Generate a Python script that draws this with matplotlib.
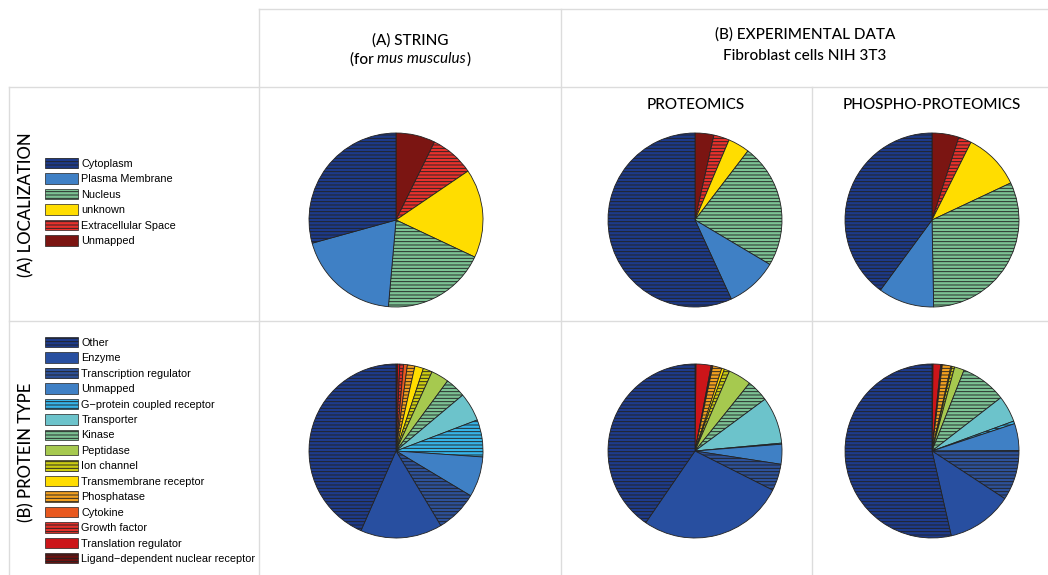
import matplotlib
matplotlib.use('Agg')
import matplotlib.pyplot as plt
from matplotlib.patches import Patch
from matplotlib.lines import Line2D

# localization categories (legend order) and shares in %
loc_labels = ['Cytoplasm', 'Plasma Membrane', 'Nucleus', 'unknown',
              'Extracellular Space', 'Unmapped']
loc_string = [29.3, 19.3, 19.4, 16.5, 8.2, 7.3]
loc_prot = [56.8, 9.6, 23.1, 4.0, 2.9, 3.5]
loc_phos = [39.9, 10.4, 31.7, 10.6, 2.4, 5.0]
loc_colors = ['#1d3a8a', '#3f80c5', '#7cc294', '#ffdd00', '#e8312c', '#7b1512']
loc_hatch = [True, False, True, False, True, False]

# protein type categories (legend order) and shares in %
type_labels = ['Other', 'Enzyme', 'Transcription regulator', 'Unmapped',
               'G\u2212protein coupled receptor', 'Transporter', 'Kinase',
               'Peptidase', 'Ion channel', 'Transmembrane receptor',
               'Phosphatase', 'Cytokine', 'Growth factor',
               'Translation regulator', 'Ligand\u2212dependent nuclear receptor']
type_string = [43.4, 15.2, 7.8, 7.5, 6.9, 5.3, 3.8, 3.3, 1.7, 1.6, 1.4, 0.7, 0.7, 0.4, 0.3]
type_prot = [40.5, 27.2, 5.0, 3.7, 0.2, 8.7, 4.1, 4.3, 1.0, 0.5, 1.7, 0.1, 0.2, 2.8, 0.2]
type_phos = [53.5, 12.2, 9.3, 5.0, 0.5, 4.9, 8.5, 1.8, 0.5, 0.2, 1.6, 0.1, 0.2, 1.4, 0.2]
type_colors = ['#1e3b8c', '#284fa0', '#2d5199', '#3f80c5', '#36b4e8', '#6cc3cb',
               '#7cc294', '#a6c94f', '#cccc12', '#ffdd00', '#f2a01f', '#e8581e',
               '#e3302a', '#cc1519', '#6b1210']
type_hatch = [True, False, True, False, True, False, True, False, True, False,
              True, False, True, False, True]

HATCH = '-----'
EDGE = '#222222'
plt.rcParams['hatch.linewidth'] = 0.65

W, H = 1048, 575
fig = plt.figure(figsize=(W / 100, H / 100), dpi=100)


def fx(x):
    return x / W


def fy(y):
    return 1 - y / H


def pie(cx, cy, vals, colors, hatches, r=87):
    ax = fig.add_axes([fx(cx - r), fy(cy + r), 2 * r / W, 2 * r / H])
    wedges, _ = ax.pie(vals[::-1], colors=colors[::-1], startangle=90,
                       counterclock=False,
                       wedgeprops=dict(edgecolor=EDGE, linewidth=0.6))
    for w, h in zip(wedges, hatches[::-1]):
        if h:
            w.set_hatch(HATCH)
        w.set_clip_on(False)
    ax.set_xlim(-1, 1)
    ax.set_ylim(-1, 1)
    ax.set_aspect('equal')
    ax.axis('off')


pie(396, 220, loc_string, loc_colors, loc_hatch)
pie(695, 220, loc_prot, loc_colors, loc_hatch)
pie(932, 220, loc_phos, loc_colors, loc_hatch)
pie(396, 451, type_string, type_colors, type_hatch)
pie(695, 451, type_prot, type_colors, type_hatch)
pie(932, 451, type_phos, type_colors, type_hatch)

# grid lines
grid = '#dcdcdc'
for x0, y0, x1, y1 in [(259, 9, W, 9), (9, 87, W, 87), (9, 321, W, 321),
                       (9, 87, 9, H), (259, 9, 259, H), (561, 9, 561, H),
                       (812, 87, 812, H)]:
    fig.add_artist(Line2D([fx(x0), fx(x1)], [fy(y0), fy(y1)], color=grid, lw=1))


# legends
def legend(labels, colors, hatches, ytop):
    handles = [Patch(facecolor=c, edgecolor=EDGE, linewidth=0.5,
                     hatch=HATCH if h else None)
               for c, h in zip(colors, hatches)]
    fig.legend(handles, labels, loc='upper left', bbox_to_anchor=(fx(45), fy(ytop)),
               frameon=False, borderpad=0, borderaxespad=0,
               handlelength=3.0, handleheight=1.1, labelspacing=0.42,
               handletextpad=0.36, prop=dict(family='Liberation Sans', size=7.8))


legend(loc_labels, loc_colors, loc_hatch, 158)
legend(type_labels, type_colors, type_hatch, 337)

# headers
hf = 'Lato'
hw = 'medium'
fig.text(fx(410), fy(40), '(A) STRING', ha='center', va='center', family=hf,
         fontsize=11, weight=hw)
fig.text(fx(805), fy(34), '(B) EXPERIMENTAL DATA', ha='center', va='center',
         family=hf, fontsize=11, weight=hw)
fig.text(fx(805), fy(56), 'Fibroblast cells NIH 3T3', ha='center', va='center',
         family=hf, fontsize=11, weight=hw)
fig.text(fx(696), fy(105), 'PROTEOMICS', ha='center', va='center', family=hf,
         fontsize=11, weight=hw)
fig.text(fx(932), fy(105), 'PHOSPHO-PROTEOMICS', ha='center', va='center',
         family=hf, fontsize=11, weight=hw)

# "(for mus musculus)" with italic species name, centred as one line
r = fig.canvas.get_renderer()
parts = [('(for ', 'normal'), ('mus musculus', 'italic'), (')', 'normal')]
texts = [fig.text(0, fy(59), s, va='center', family=hf, fontsize=11, style=st,
                  weight=hw if st == 'normal' else 'normal')
         for s, st in parts]
widths = [t.get_window_extent(r).width for t in texts]
x = 410 - sum(widths) / 2
for t, w in zip(texts, widths):
    t.set_x(fx(x))
    x += w

fig.text(fx(26), fy(205), '(A) LOCALIZATION', rotation=90, ha='center', va='center',
         family=hf, fontsize=12, weight=hw)
fig.text(fx(26), fy(452), '(B) PROTEIN TYPE', rotation=90, ha='center', va='center',
         family=hf, fontsize=12, weight=hw)

fig.savefig('out.png', dpi=100)
